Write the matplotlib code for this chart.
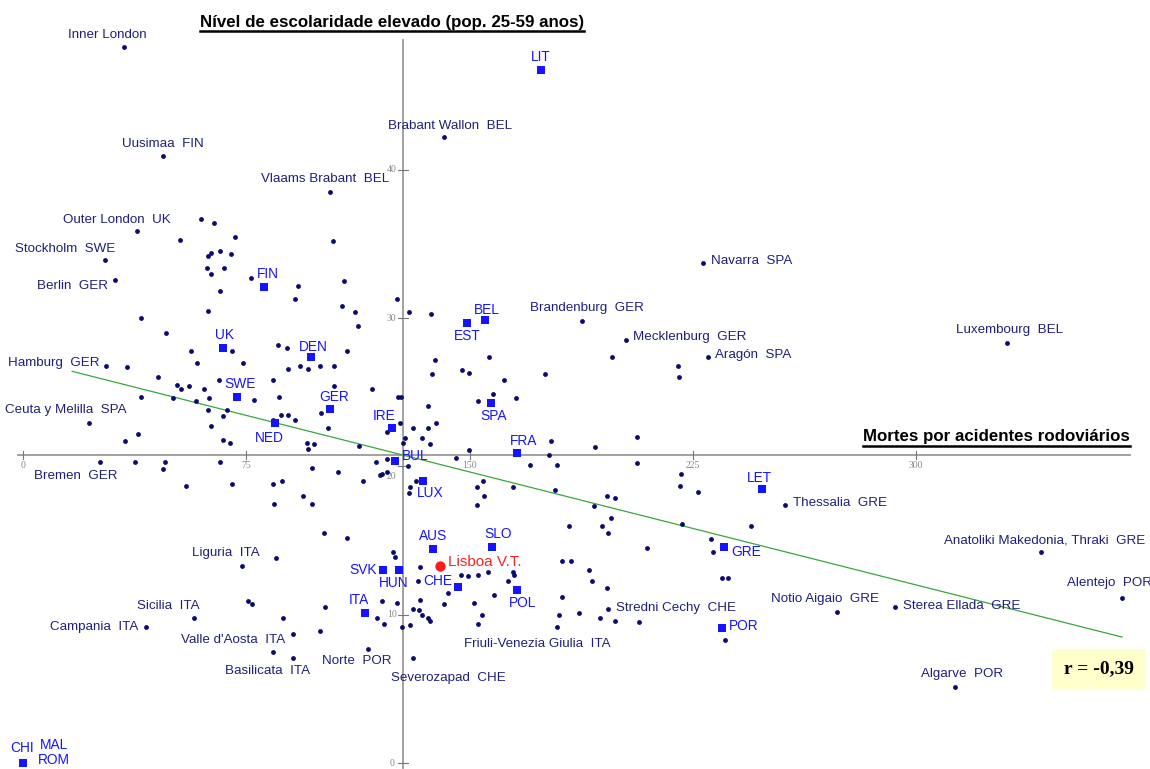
import numpy as np
import matplotlib
matplotlib.use('Agg')
import matplotlib.pyplot as plt
from matplotlib.lines import Line2D

plt.rcParams['font.family'] = ['Liberation Sans', 'DejaVu Sans']

# regions with a name on the chart (deaths per million, % high education)
region_names = ['Inner London', 'Uusimaa  FIN', 'Vlaams Brabant  BEL', 'Brabant Wallon  BEL',
                'Outer London  UK', 'Stockholm  SWE', 'Berlin  GER', 'Navarra  SPA',
                'Brandenburg  GER', 'Mecklenburg  GER', 'Aragón  SPA', 'Luxembourg  BEL',
                'Hamburg  GER', 'Ceuta y Melilla  SPA', 'Bremen  GER', 'Thessalia  GRE',
                'Anatoliki Makedonia, Thraki  GRE', 'Liguria  ITA', 'Alentejo  POR', 'Sicilia  ITA',
                'Notio Aigaio  GRE', 'Sterea Ellada  GRE', 'Campania  ITA', 'Stredni Cechy  CHE',
                "Valle d'Aosta  ITA", 'Friuli-Venezia Giulia  ITA', 'Basilicata  ITA', 'Norte  POR',
                'Severozapad  CHE', 'Algarve  POR']
region_x = [33.9, 47.0, 103.1, 141.4, 38.3, 27.5, 30.9, 228.4, 187.8, 202.5, 230.1, 330.5,
            27.9, 22.2, 25.9, 256.0, 341.9, 73.6, 369.2, 57.4, 273.4, 292.9, 41.3, 196.5,
            84.0, 179.4, 90.7, 115.9, 131.0, 313.1]
region_y = [48.3, 40.9, 38.5, 42.2, 35.9, 33.9, 32.6, 33.7, 29.8, 28.5, 27.4, 28.3,
            26.8, 22.9, 20.3, 17.4, 14.2, 13.3, 11.1, 9.8, 10.2, 10.5, 9.2, 10.4,
            7.5, 9.2, 7.1, 7.7, 7.1, 5.1]

# other regions (no label)
other_x = [59.8, 64.2, 52.7, 71.2, 104.1, 62.1, 63.2, 66.2, 69.9, 61.8, 67.5, 63.2, 76.6, 92.4,
           107.8, 66.2, 91.4, 125.6, 107.2, 111.5, 39.6, 62.1, 112.5, 48.0, 70.2, 56.4, 58.4,
           73.9, 85.7, 88.7, 108.8, 34.9, 89.0, 93.0, 95.7, 99.8, 104.5, 45.3, 65.8, 84.0,
           51.7, 53.1, 55.8, 60.8, 62.5, 39.6, 50.4, 58.1, 77.6, 86.0, 104.5, 117.2, 126.0,
           62.1, 68.5, 67.2, 86.7, 89.0, 100.1, 91.4, 84.0, 63.2, 102.4, 122.3, 38.6, 34.3,
           67.2, 69.5, 95.4, 97.7, 95.7, 112.9, 37.6, 47.7, 47.0, 66.2, 97.1, 105.8, 118.6,
           122.3, 120.6, 122.3, 54.8, 70.2, 84.0, 87.0, 114.2, 94.1, 97.1, 84.3, 129.7, 137.0,
           197.8, 138.4, 156.5, 137.4, 147.5, 149.8, 161.6, 175.3, 220.0, 220.4, 127.0, 157.9,
           152.8, 165.6, 136.0, 138.7, 136.0, 131.0, 126.6, 134.0, 128.3, 127.6, 136.7, 177.4,
           206.2, 192.1, 149.8, 145.4, 176.7, 129.3, 170.3, 179.4, 206.2, 221.0, 220.7, 226.7,
           119.9, 132.0, 130.0, 129.7, 154.5, 152.5, 154.8, 152.5, 164.6, 178.7, 196.2, 198.9,
           191.8, 183.4, 194.5, 197.5, 196.5, 221.4, 244.5, 231.1, 231.8, 209.6, 124.3, 125.0,
           133.4, 181.1, 184.1, 190.1, 191.1, 196.2, 234.8, 236.8, 164.6, 164.9, 147.1, 149.5,
           152.8, 156.2, 162.9, 132.7, 142.8, 158.2, 181.1, 133.4, 120.6, 125.6, 141.4, 151.5,
           186.8, 180.0, 193.8, 198.9, 206.9, 131.0, 133.0, 134.0, 136.0, 136.7, 154.2, 152.8,
           121.3, 127.3, 130.0, 235.8, 101.1, 108.8, 85.0, 75.6, 76.9, 101.4, 118.9, 87.3,
           90.7, 99.8]
other_y = [36.7, 36.4, 35.3, 35.5, 35.2, 34.2, 34.4, 34.5, 34.3, 33.4, 33.4, 33.0, 32.7, 32.2,
           32.5, 31.8, 31.3, 31.3, 30.8, 30.4, 30.0, 30.5, 29.5, 29.0, 27.8, 27.8, 27.0,
           27.0, 28.2, 28.0, 27.8, 26.7, 26.6, 26.8, 26.6, 26.8, 26.8, 26.0, 25.8, 25.8,
           25.5, 25.2, 25.4, 25.2, 24.6, 24.7, 24.6, 24.4, 24.5, 24.7, 25.4, 25.2, 24.7,
           23.8, 23.8, 23.4, 23.5, 23.5, 23.6, 23.1, 23.1, 22.7, 22.6, 22.3, 22.2, 21.7,
           21.8, 21.6, 21.6, 21.5, 21.2, 21.4, 20.3, 20.3, 19.8, 20.3, 19.9, 19.6, 20.3,
           20.5, 19.5, 19.6, 18.7, 18.8, 18.8, 19.0, 19.0, 18.0, 17.5, 17.5, 30.4, 30.3,
           27.4, 27.2, 27.4, 26.2, 26.5, 26.3, 25.8, 26.2, 26.8, 26.0, 24.7, 24.9,
           24.4, 24.6, 24.1, 22.9, 22.6, 22.6, 22.9, 21.9, 21.9, 21.6, 21.5, 21.7,
           22.0, 21.3, 21.1, 20.6, 20.8, 20.0, 20.1, 20.1, 20.2, 19.5, 18.7, 18.3,
           19.4, 19.0, 18.6, 18.2, 19.0, 18.6, 18.0, 17.4, 18.6, 18.4, 18.0, 17.9,
           17.3, 16.0, 16.0, 16.5, 15.5, 16.1, 16.0, 15.1, 14.2, 14.5, 14.2, 13.9,
           13.2, 13.6, 13.6, 13.0, 12.3, 11.8, 12.5, 12.5, 12.9, 12.7, 12.7, 12.6,
           12.7, 12.9, 12.3, 12.3, 11.5, 11.3, 11.2, 11.0, 10.9, 10.8, 10.7, 10.8,
           10.1, 10.0, 9.8, 9.6, 9.5, 10.4, 10.3, 10.0, 9.8, 9.6, 10.0, 9.4,
           9.4, 9.2, 9.3, 8.3, 15.5, 15.2, 13.8, 10.9, 10.7, 10.5, 9.8, 9.8,
           8.7, 8.9]

# countries (national values)
country_names = ['LIT', 'FIN', 'EST', 'BEL', 'UK', 'DEN', 'SWE', 'GER', 'IRE', 'NED', 'BUL',
                 'FRA', 'LUX', 'LET', 'AUS', 'SLO', 'GRE', 'SVK', 'HUN', 'CHE', 'ITA', 'POL',
                 'POR', 'SPA', 'CHI', 'MAL', 'ROM']
country_x = [174.0, 81.0, 149.1, 155.2, 67.2, 96.7, 71.9, 103.1, 123.9, 84.6, 125.0,
             165.9, 134.4, 248.2, 137.7, 157.5, 235.5, 120.9, 126.3, 146.1, 114.9, 165.9,
             234.8, 157.2, 0.0, 0.0, 0.0]
country_y = [46.7, 32.1, 29.7, 29.9, 28.0, 27.4, 24.7, 23.9, 22.6, 22.9, 20.4,
             20.9, 19.0, 18.5, 14.4, 14.6, 14.6, 13.0, 13.0, 11.9, 10.1, 11.7,
             9.1, 24.3, 0.0, 0.0, 0.0]

lisboa_x, lisboa_y = 140.1, 13.3

# means (where the axes cross) and regression line
mean_x, mean_y = 127.6, 20.77
slope = -0.0508
trend_x = [16.5, 369.2]
r_text = 'r = -0,39'

x_ticks = [0, 75, 150, 225, 300]
y_ticks = [0, 10, 20, 30, 40]

# label placement: offset (pixels) from the point, alignment
region_lab = {
    'Inner London': (-56, 12, 'left'), 'Uusimaa  FIN': (-41, 12, 'left'),
    'Vlaams Brabant  BEL': (-69, 13, 'left'), 'Brabant Wallon  BEL': (-56, 11, 'left'),
    'Outer London  UK': (-74, 11, 'left'), 'Stockholm  SWE': (-90, 11, 'left'),
    'Berlin  GER': (-78, -6, 'left'), 'Navarra  SPA': (8, 2, 'left'),
    'Brandenburg  GER': (-52, 13, 'left'), 'Mecklenburg  GER': (7, 3, 'left'),
    'Aragón  SPA': (7, 2, 'left'), 'Luxembourg  BEL': (-51, 13, 'left'),
    'Hamburg  GER': (-98, 3, 'left'), 'Ceuta y Melilla  SPA': (-84, 13, 'left'),
    'Bremen  GER': (-66, -14, 'left'), 'Thessalia  GRE': (8, 2, 'left'),
    'Anatoliki Makedonia, Thraki  GRE': (-97, 12, 'left'), 'Liguria  ITA': (-50, 13, 'left'),
    'Alentejo  POR': (-55, 15, 'left'), 'Sicilia  ITA': (-57, 12, 'left'),
    'Notio Aigaio  GRE': (-66, 13, 'left'), 'Sterea Ellada  GRE': (8, 1, 'left'),
    'Campania  ITA': (-96, 0, 'left'), 'Stredni Cechy  CHE': (8, 1, 'left'),
    "Valle d'Aosta  ITA": (-92, 12, 'left'), 'Friuli-Venezia Giulia  ITA': (-93, -17, 'left'),
    'Basilicata  ITA': (-68, -13, 'left'), 'Norte  POR': (-46, -12, 'left'),
    'Severozapad  CHE': (-22, -20, 'left'), 'Algarve  POR': (-34, 13, 'left'),
}
country_lab = {
    'LIT': (0, 13, 'center'), 'FIN': (4, 13, 'center'), 'EST': (0, -13, 'center'),
    'BEL': (2, 10, 'center'), 'UK': (1, 13, 'center'), 'DEN': (2, 10, 'center'),
    'SWE': (3, 13, 'center'), 'GER': (4, 12, 'center'), 'IRE': (-8, 12, 'center'),
    'NED': (-6, -15, 'center'), 'BUL': (7, 5, 'left'), 'FRA': (7, 12, 'center'),
    'LUX': (7, -12, 'center'), 'LET': (-2, 11, 'center'), 'AUS': (0, 13, 'center'),
    'SLO': (6, 13, 'center'), 'GRE': (7, -5, 'left'), 'SVK': (-6, 0, 'right'),
    'HUN': (-5, -13, 'center'), 'CHE': (-6, 6, 'right'), 'ITA': (-6, 13, 'center'),
    'POL': (6, -13, 'center'), 'POR': (7, 2, 'left'), 'SPA': (3, -13, 'center'),
    'CHI': (-1, 15, 'center'), 'MAL': (31, 18, 'center'), 'ROM': (31, 3, 'center'),
}

navy = '#0a0a6e'
blue = '#1414ff'
grey = '#9a9a9a'

fig = plt.figure(figsize=(11.5, 7.69), dpi=100)
ax = fig.add_axes([0, 0, 1, 1])
ax.set_xlim(-7.73, 378.6)
ax.set_ylim(-0.40, 51.45)
ax.axis('off')

# axes crossing at the means
ax.plot([mean_x, mean_x], [-0.34, 48.75], color=grey, lw=1.3, zorder=1)
ax.plot([-1.7, 371.8], [mean_y, mean_y], color=grey, lw=1.3, zorder=1)
for t in x_ticks:
    ax.plot([t, t], [mean_y - 0.3, mean_y + 0.3], color='#777777', lw=0.8, zorder=1)
    ax.annotate(str(t), (t, mean_y), xytext=(0, -10), textcoords='offset pixels',
                ha='center', va='center', fontsize=7, color='#888888', family='Liberation Serif')
for t in y_ticks:
    ax.plot([mean_x - 1.6, mean_x + 1.6], [t, t], color='#777777', lw=0.8, zorder=1)
    ax.annotate(str(t), (mean_x, t), xytext=(-11, 0 if t != 20 else -10), textcoords='offset pixels',
                ha='center', va='center', fontsize=7, color='#888888', family='Liberation Serif')

# trend line
tx = np.array(trend_x)
ax.plot(tx, mean_y + slope * (tx - mean_x), color='#3aa63a', lw=0.9, zorder=2)

# points
ax.scatter(other_x, other_y, s=12, color=navy, zorder=3, linewidths=0)
ax.scatter(region_x, region_y, s=12, color=navy, zorder=3, linewidths=0)
ax.scatter(country_x, country_y, s=28, marker='s', color=blue, zorder=4, linewidths=0)
ax.scatter([lisboa_x], [lisboa_y], s=55, color='#ff1a1a', zorder=5, linewidths=0)

for n, x, y in zip(region_names, region_x, region_y):
    dx, dy, ha = region_lab[n]
    ax.annotate(n, (x, y), xytext=(dx, dy), textcoords='offset pixels', ha=ha, va='center',
                fontsize=9.6, color='#20207a')
for n, x, y in zip(country_names, country_x, country_y):
    dx, dy, ha = country_lab[n]
    ax.annotate(n, (x, y), xytext=(dx, dy), textcoords='offset pixels', ha=ha, va='center',
                fontsize=9.9, color=blue)
ax.annotate('Lisboa V.T.', (lisboa_x, lisboa_y), xytext=(8, 4), textcoords='offset pixels',
            ha='left', va='center', fontsize=11, color='#ff2020')

# axis titles, underlined
t1 = fig.text(200 / 1150, 1 - 22 / 769, 'Nível de escolaridade elevado (pop. 25-59 anos)',
              fontsize=12.2, fontweight='bold', ha='left', va='center')
t2 = fig.text(1130 / 1150, 1 - 437 / 769, 'Mortes por acidentes rodoviários',
              fontsize=12.2, fontweight='bold', ha='right', va='center')
fig.canvas.draw()
W, H = fig.canvas.get_width_height()
for t in (t1, t2):
    bb = t.get_window_extent()
    yl = (bb.y0 - 1) / H
    fig.add_artist(Line2D([bb.x0 / W, bb.x1 / W], [yl, yl], color='black', lw=1.8))

# correlation box
fig.text(1099 / 1150, 1 - 669 / 769, r_text, fontsize=14, fontweight='bold',
         family='Liberation Serif', ha='center', va='center',
         bbox=dict(boxstyle='square,pad=0.6', facecolor='#ffffcc', edgecolor='none'))

fig.savefig('out.png', dpi=100, facecolor='white')
